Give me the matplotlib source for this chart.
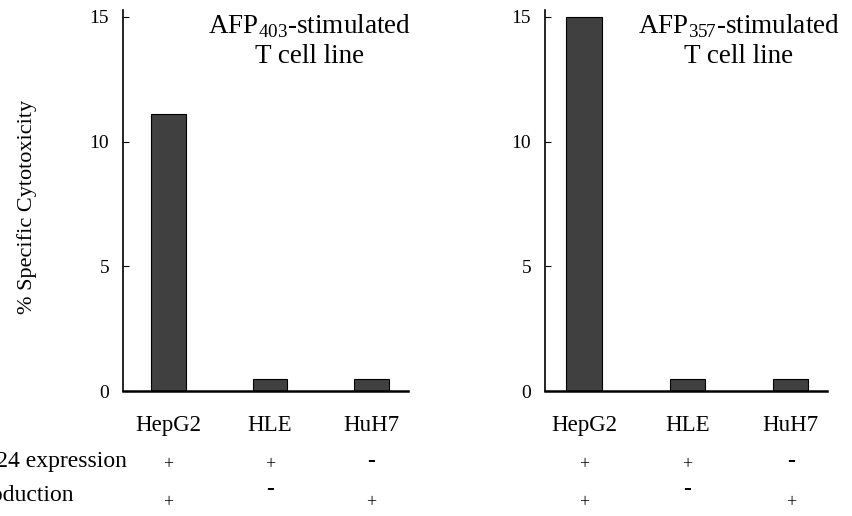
import matplotlib.pyplot as plt
import matplotlib.transforms as mtransforms

plt.rcParams['font.family'] = ['Liberation Serif', 'DejaVu Serif']
plt.rcParams['mathtext.fontset'] = 'custom'
plt.rcParams['mathtext.rm'] = 'Liberation Serif'

cells = ["HepG2", "HLE", "HuH7"]
afp403 = [11.1, 0.5, 0.5]
afp357 = [15.0, 0.5, 0.5]
a24_expression = ["+", "+", "-"]
afp_production = ["+", "-", "+"]
title_top = [r"AFP$_{\mathrm{403}}$-stimulated", r"AFP$_{\mathrm{357}}$-stimulated"]
title_bottom = "T cell line"

W, H = 853, 516
fig = plt.figure(figsize=(W / 100, H / 100), dpi=100)

# axes boxes in pixels: left, right, bottom (y=0), top
boxes = [(123, 408, 391, 9.5), (545, 827, 391, 9.5)]
xlims = [(-0.45, 2.36), (-0.377, 2.35)]
title_x = [310, 739]

# sign rows: (y of "+", y of "-") in pixels
rows = [(465, 461), (503, 490)]

for k, (vals, box) in enumerate(zip([afp403, afp357], boxes)):
    l, r, b, t = box
    ax = fig.add_axes([l / W, 1 - b / H, (r - l) / W, (b - t) / H])
    ax.bar(range(3), vals, width=0.34, color="#404040", edgecolor="black", linewidth=0.8)
    ax.set_xlim(*xlims[k])
    ax.set_ylim(0, 15.3)
    ax.set_yticks([0, 5, 10, 15])
    ax.set_xticks(range(3))
    ax.set_xticklabels(cells, fontsize=16.5)
    ax.tick_params(axis="x", length=0, pad=17)
    ax.tick_params(axis="y", direction="in", length=4, labelsize=14, pad=10)
    for s in ["top", "right"]:
        ax.spines[s].set_visible(False)
    ax.spines["left"].set_linewidth(1.2)
    ax.spines["bottom"].set_linewidth(1.8)

    fig.text(title_x[k] / W, 1 - 33 / H, title_top[k], ha="center", va="baseline", fontsize=19.5)
    fig.text(title_x[k] / W, 1 - 63 / H, title_bottom, ha="center", va="baseline", fontsize=19.5)

    trans = mtransforms.blended_transform_factory(ax.transData, fig.transFigure)
    for i in range(3):
        for sign, (y_plus, y_dash) in zip([a24_expression[i], afp_production[i]], rows):
            if sign == "-":
                ax.text(i, 1 - y_dash / H, sign, transform=trans, ha="center", va="center",
                        fontsize=17, fontweight="bold")
            else:
                ax.text(i, 1 - y_plus / H, sign, transform=trans, ha="center", va="center",
                        fontsize=13)

    if k == 0:
        ax.set_ylabel("% Specific Cytotoxicity", fontsize=16)
        ax.yaxis.set_label_coords((37 - l) / (r - l), (b - 207) / (b - t))

# row labels run off the left edge, as in the source figure
t1 = fig.text(127 / W, 1 - 461 / H, "HLA-A24 expression", ha="right", va="center", fontsize=17)
fig.canvas.draw()
x0 = t1.get_window_extent().x0
fig.text(x0 / W, 1 - 496 / H, "AFP production", ha="left", va="center", fontsize=17)

fig.savefig("out.png", dpi=100)
